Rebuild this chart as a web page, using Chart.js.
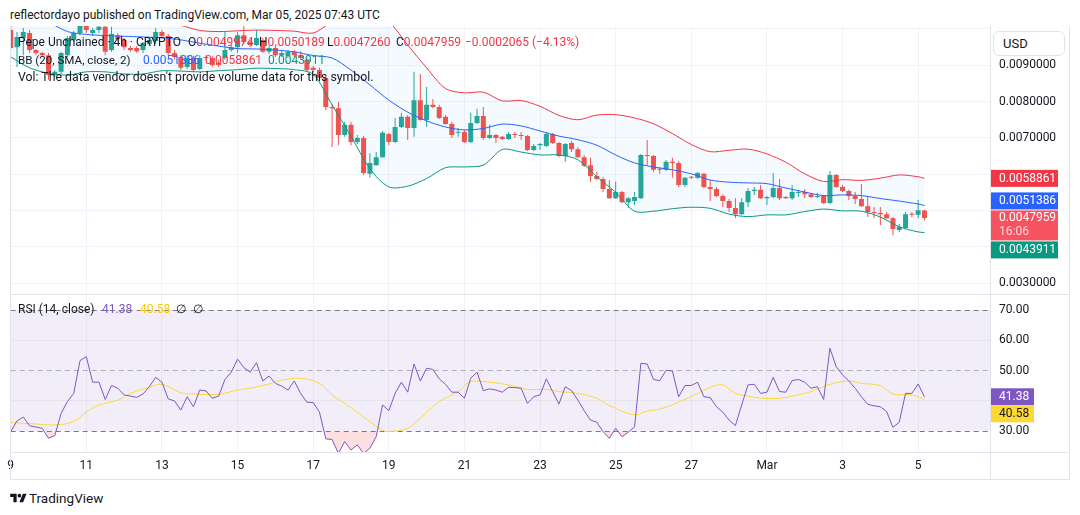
<!DOCTYPE html>
<html>
<head>
<meta charset="UTF-8">
<title>Pepe Unchained 4h - BB / RSI</title>
<script src="https://cdn.jsdelivr.net/npm/chart.js"></script>
<style>
  body { margin: 0; width: 1080px; height: 515px; background: #fff; position: relative; overflow: hidden;
         font-family: Roboto, "Liberation Sans", sans-serif; font-size: 12px; color: #131722; }
  canvas { position: absolute; left: 0; }
  .t { position: absolute; white-space: nowrap; line-height: 14px; }
  .ln { position: absolute; background: #E0E3EB; }
  .dn { color: #F23645; }
  #usd { position: absolute; left: 993px; top: 31px; width: 72px; height: 25px; box-sizing: border-box;
         border: 1px solid #E0E3EB; border-radius: 6px; background: #fff; font-size: 13px; line-height: 23px; padding-left: 9px; }
</style>
</head>
<body>
<div class="t" style="left:10px;top:8px">reflectordayo published on TradingView.com, Mar 05, 2025 07:43 UTC</div>

<canvas id="priceChart" width="1070" height="268" style="top:26px"></canvas>
<canvas id="rsiChart" width="1070" height="186" style="top:294px"></canvas>

<!-- frame -->
<div class="ln" style="left:10px;top:26px;width:1px;height:453px"></div>
<div class="ln" style="left:1069px;top:26px;width:1px;height:453px"></div>
<div class="ln" style="left:990px;top:26px;width:1px;height:453px"></div>
<div class="ln" style="left:10px;top:294px;width:1060px;height:1px"></div>
<div class="ln" style="left:10px;top:452px;width:1060px;height:1px"></div>
<div class="ln" style="left:10px;top:479px;width:1060px;height:1px"></div>

<div id="usd">USD</div>

<!-- legends -->
<div class="t" style="left:18px;top:35px">Pepe Unchained · 4h · CRYPTO</div>
<div class="t" style="left:188px;top:35px">O<span class="dn">0.0049974</span></div>
<div class="t" style="left:259px;top:35px">H<span class="dn">0.0050189</span></div>
<div class="t" style="left:327px;top:35px">L<span class="dn">0.0047260</span></div>
<div class="t" style="left:396px;top:35px">C<span class="dn">0.0047959</span></div>
<div class="t dn" style="left:465px;top:35px">−0.0002065 (−4.13%)</div>
<div class="t" style="left:18px;top:53px;font-size:11.6px">BB (20, SMA, close, 2)</div>
<div class="t" style="left:143px;top:53px;color:#2962FF">0.0051386</div>
<div class="t" style="left:205px;top:53px;color:#F23645">0.0058861</div>
<div class="t" style="left:268px;top:53px;color:#089981">0.0043911</div>
<div class="t" style="left:18px;top:70px;font-size:12.3px">Vol: The data vendor doesn't provide volume data for this symbol.</div>

<div class="t" style="left:18px;top:302px">RSI (14, close)</div>
<div class="t" style="left:102px;top:302px;color:#7E57C2">41.38</div>
<div class="t" style="left:140px;top:302px;color:#F9C80E">40.58</div>
<div class="t" style="left:176px;top:302px">∅</div>
<div class="t" style="left:193px;top:302px">∅</div>

<!-- footer logo -->
<svg style="position:absolute;left:10px;top:492px" width="17" height="12" viewBox="0 0 36 26">
  <path d="M14 22H7V11H0V4h14v18z" fill="#131722"/><circle cx="20" cy="8" r="4" fill="#131722"/><path d="M28 22h-8l7.5-18h8L28 22z" fill="#131722"/>
</svg>
<div class="t" style="left:29px;top:490px;font-size:13.5px;line-height:16px">TradingView</div>

<script>
// 4h candles, index 0 = Feb 9 00:00 UTC, last = Mar 5 04:00
const openP = [
  0.00997, 0.00950, 0.00975, 0.00989, 0.00942, 0.00934, 0.00928, 0.00873, 0.00882, 0.00928,
  0.00970, 0.00989, 0.01011, 0.00989, 0.00997, 0.01006, 0.00942, 0.00983, 0.00970, 0.00948,
  0.00948, 0.00942, 0.00959, 0.00967, 0.00992, 0.00981, 0.00934, 0.00923, 0.00895, 0.00920,
  0.00890, 0.00923, 0.00920, 0.00906, 0.00920, 0.00942, 0.00950, 0.00983, 0.00964, 0.00956,
  0.00970, 0.00937, 0.00948, 0.00928, 0.00926, 0.00937, 0.00928, 0.00915, 0.00893, 0.00887,
  0.00865, 0.00785, 0.00782, 0.00708, 0.00736, 0.00689, 0.00700, 0.00601, 0.00625, 0.00647,
  0.00711, 0.00689, 0.00730, 0.00758, 0.00727, 0.00804, 0.00749, 0.00791, 0.00785, 0.00758,
  0.00738, 0.00714, 0.00716, 0.00689, 0.00741, 0.00760, 0.00700, 0.00708, 0.00703, 0.00697,
  0.00711, 0.00708, 0.00705, 0.00667, 0.00680, 0.00678, 0.00711, 0.00686, 0.00650, 0.00686,
  0.00669, 0.00647, 0.00625, 0.00595, 0.00587, 0.00559, 0.00534, 0.00551, 0.00523, 0.00526,
  0.00534, 0.00653, 0.00650, 0.00614, 0.00612, 0.00634, 0.00631, 0.00570, 0.00592, 0.00590,
  0.00601, 0.00565, 0.00559, 0.00540, 0.00526, 0.00507, 0.00490, 0.00523, 0.00554, 0.00557,
  0.00534, 0.00537, 0.00562, 0.00537, 0.00534, 0.00548, 0.00551, 0.00545, 0.00537, 0.00540,
  0.00521, 0.00598, 0.00565, 0.00554, 0.00540, 0.00532, 0.00512, 0.00496, 0.00493, 0.00490,
  0.00479, 0.00446, 0.00452, 0.00490, 0.00488, 0.0049974
];
const highP = [
  0.01011, 0.00992, 0.01003, 0.00997, 0.00945, 0.00937, 0.00934, 0.00887, 0.00937, 0.00981,
  0.00995, 0.01019, 0.01019, 0.01003, 0.01014, 0.01019, 0.01006, 0.00989, 0.00975, 0.00953,
  0.00953, 0.00964, 0.00975, 0.01003, 0.00997, 0.00986, 0.00942, 0.00928, 0.00928, 0.00926,
  0.00928, 0.00928, 0.00926, 0.00915, 0.00992, 0.00956, 0.00992, 0.01008, 0.00970, 0.00997,
  0.00975, 0.00953, 0.00953, 0.00939, 0.00942, 0.00942, 0.00939, 0.00920, 0.00898, 0.00893,
  0.00871, 0.00793, 0.00799, 0.00744, 0.00744, 0.00708, 0.00705, 0.00658, 0.00661, 0.00719,
  0.00714, 0.00755, 0.00769, 0.00763, 0.00882, 0.00876, 0.00840, 0.00807, 0.00791, 0.00763,
  0.00744, 0.00727, 0.00722, 0.00769, 0.00780, 0.00785, 0.00736, 0.00711, 0.00705, 0.00716,
  0.00716, 0.00716, 0.00708, 0.00683, 0.00686, 0.00716, 0.00714, 0.00689, 0.00686, 0.00692,
  0.00675, 0.00653, 0.00645, 0.00606, 0.00592, 0.00584, 0.00579, 0.00554, 0.00537, 0.00551,
  0.00656, 0.00694, 0.00653, 0.00620, 0.00639, 0.00645, 0.00636, 0.00592, 0.00595, 0.00606,
  0.00603, 0.00584, 0.00565, 0.00545, 0.00532, 0.00534, 0.00534, 0.00562, 0.00565, 0.00570,
  0.00540, 0.00603, 0.00587, 0.00540, 0.00570, 0.00557, 0.00559, 0.00548, 0.00548, 0.00543,
  0.00609, 0.00601, 0.00570, 0.00557, 0.00551, 0.00573, 0.00537, 0.00510, 0.00510, 0.00496,
  0.00482, 0.00463, 0.00496, 0.00496, 0.00529, 0.0050189
];
const lowP = [
  0.00942, 0.00895, 0.00928, 0.00934, 0.00928, 0.00923, 0.00860, 0.00868, 0.00876, 0.00923,
  0.00964, 0.00983, 0.00989, 0.00981, 0.00989, 0.00928, 0.00937, 0.00967, 0.00942, 0.00937,
  0.00934, 0.00934, 0.00953, 0.00959, 0.00975, 0.00926, 0.00915, 0.00887, 0.00890, 0.00882,
  0.00887, 0.00915, 0.00895, 0.00895, 0.00915, 0.00937, 0.00934, 0.00959, 0.00950, 0.00953,
  0.00934, 0.00931, 0.00923, 0.00923, 0.00920, 0.00923, 0.00915, 0.00882, 0.00882, 0.00860,
  0.00777, 0.00675, 0.00680, 0.00703, 0.00680, 0.00683, 0.00598, 0.00590, 0.00623, 0.00645,
  0.00680, 0.00686, 0.00727, 0.00694, 0.00703, 0.00747, 0.00730, 0.00782, 0.00752, 0.00736,
  0.00700, 0.00703, 0.00686, 0.00686, 0.00738, 0.00694, 0.00697, 0.00686, 0.00694, 0.00694,
  0.00700, 0.00694, 0.00664, 0.00664, 0.00667, 0.00675, 0.00683, 0.00647, 0.00634, 0.00661,
  0.00645, 0.00620, 0.00579, 0.00584, 0.00551, 0.00532, 0.00532, 0.00521, 0.00507, 0.00515,
  0.00532, 0.00625, 0.00606, 0.00601, 0.00609, 0.00590, 0.00565, 0.00565, 0.00587, 0.00587,
  0.00562, 0.00526, 0.00537, 0.00510, 0.00496, 0.00479, 0.00488, 0.00510, 0.00543, 0.00532,
  0.00515, 0.00534, 0.00529, 0.00532, 0.00529, 0.00537, 0.00534, 0.00534, 0.00534, 0.00518,
  0.00518, 0.00562, 0.00551, 0.00529, 0.00518, 0.00510, 0.00482, 0.00479, 0.00460, 0.00477,
  0.00432, 0.00441, 0.00449, 0.00482, 0.00479, 0.0047260
];
const closeP = [
  0.00948, 0.00978, 0.00992, 0.00942, 0.00934, 0.00928, 0.00873, 0.00882, 0.00934, 0.00975,
  0.00989, 0.01011, 0.00997, 0.00997, 0.01006, 0.00937, 0.00986, 0.00972, 0.00950, 0.00942,
  0.00939, 0.00961, 0.00970, 0.00992, 0.00981, 0.00934, 0.00923, 0.00893, 0.00920, 0.00887,
  0.00920, 0.00920, 0.00901, 0.00901, 0.00942, 0.00950, 0.00983, 0.00964, 0.00956, 0.00975,
  0.00937, 0.00948, 0.00928, 0.00934, 0.00937, 0.00928, 0.00920, 0.00887, 0.00887, 0.00865,
  0.00785, 0.00782, 0.00708, 0.00736, 0.00689, 0.00700, 0.00603, 0.00631, 0.00647, 0.00714,
  0.00689, 0.00730, 0.00758, 0.00727, 0.00804, 0.00749, 0.00791, 0.00785, 0.00755, 0.00738,
  0.00708, 0.00716, 0.00689, 0.00741, 0.00760, 0.00700, 0.00708, 0.00700, 0.00697, 0.00711,
  0.00708, 0.00705, 0.00667, 0.00678, 0.00683, 0.00711, 0.00686, 0.00650, 0.00683, 0.00669,
  0.00647, 0.00623, 0.00595, 0.00587, 0.00559, 0.00534, 0.00551, 0.00523, 0.00534, 0.00537,
  0.00653, 0.00650, 0.00612, 0.00612, 0.00634, 0.00631, 0.00570, 0.00590, 0.00590, 0.00603,
  0.00565, 0.00559, 0.00540, 0.00526, 0.00507, 0.00490, 0.00523, 0.00554, 0.00557, 0.00534,
  0.00537, 0.00562, 0.00534, 0.00534, 0.00551, 0.00551, 0.00545, 0.00537, 0.00540, 0.00521,
  0.00598, 0.00565, 0.00554, 0.00540, 0.00532, 0.00512, 0.00496, 0.00493, 0.00490, 0.00479,
  0.00449, 0.00455, 0.00490, 0.00488, 0.00501, 0.0047959
];

// Bollinger Bands (20, 2) every 3 bars
const bbIdx = [0, 3, 6, 9, 12, 15, 18, 21, 24, 27, 30, 33, 36, 39, 42, 45, 48, 51, 54, 57,
  60, 63, 66, 69, 72, 75, 78, 81, 84, 87, 90, 93, 96, 99, 102, 105, 108, 111, 114, 117,
  120, 123, 126, 129, 132, 135, 138, 141, 144, 145];
const bbUpper = [0.01060, 0.01060, 0.01055, 0.01050, 0.01045, 0.01040, 0.01035, 0.01030, 0.01020, 0.01010,
  0.00996, 0.00993, 0.00995, 0.00997, 0.00996, 0.00994, 0.00989, 0.01020, 0.01045, 0.01045,
  0.01020, 0.00956, 0.00893, 0.00836, 0.00824, 0.00826, 0.00802, 0.00803, 0.00787, 0.00762,
  0.00750, 0.00763, 0.00764, 0.00755, 0.00739, 0.00712, 0.00682, 0.00662, 0.00666, 0.00669,
  0.00656, 0.00633, 0.00601, 0.00580, 0.00585, 0.00583, 0.00589, 0.00598, 0.00593, 0.0058861];
const bbBasis = [0.01040, 0.01030, 0.01018, 0.00993, 0.00985, 0.00982, 0.00980, 0.00978, 0.00976, 0.00970,
  0.00961, 0.00953, 0.00946, 0.00945, 0.00942, 0.00937, 0.00927, 0.00920, 0.00887, 0.00846,
  0.00804, 0.00771, 0.00747, 0.00730, 0.00722, 0.00726, 0.00738, 0.00733, 0.00719, 0.00705,
  0.00695, 0.00680, 0.00653, 0.00631, 0.00620, 0.00612, 0.00601, 0.00584, 0.00578, 0.00576,
  0.00574, 0.00562, 0.00551, 0.00541, 0.00543, 0.00541, 0.00533, 0.00526, 0.00518, 0.0051386];
const bbLower = [0.00923, 0.00893, 0.00878, 0.00873, 0.00882, 0.00882, 0.00876, 0.00876, 0.00885, 0.00884,
  0.00882, 0.00885, 0.00888, 0.00892, 0.00891, 0.00888, 0.00875, 0.00791, 0.00705, 0.00615,
  0.00565, 0.00567, 0.00588, 0.00618, 0.00620, 0.00625, 0.00668, 0.00661, 0.00653, 0.00653,
  0.00640, 0.00593, 0.00550, 0.00498, 0.00498, 0.00505, 0.00509, 0.00506, 0.00490, 0.00483,
  0.00488, 0.00488, 0.00497, 0.00504, 0.00499, 0.00498, 0.00482, 0.00455, 0.00441, 0.0043911];

// RSI (14, close), one value per bar, and its moving average
const rsiVals = [
  29.9, 33.4, 34.7, 31.8, 31.4, 31.0, 27.7, 28.6, 35.9, 39.8,
  42.5, 53.3, 54.6, 46.2, 46.2, 40.5, 45.1, 44.2, 42.0, 41.6,
  41.2, 42.3, 44.7, 47.8, 46.2, 40.7, 40.0, 37.0, 41.4, 38.1,
  43.6, 43.3, 40.9, 41.6, 47.1, 49.5, 53.8, 51.0, 49.5, 52.6,
  46.6, 48.2, 45.8, 44.9, 43.6, 46.6, 42.5, 39.6, 39.5, 36.3,
  27.5, 27.3, 22.7, 26.6, 23.8, 25.5, 22.7, 24.4, 28.2, 38.7,
  36.8, 42.5, 46.2, 42.9, 52.2, 46.6, 50.8, 50.4, 47.3, 45.5,
  42.9, 42.9, 40.9, 47.5, 49.5, 43.4, 44.0, 43.6, 42.9, 44.5,
  44.4, 44.2, 39.2, 41.4, 42.0, 47.3, 43.1, 39.0, 44.7, 43.4,
  40.3, 36.8, 33.7, 33.0, 29.9, 27.7, 31.0, 28.2, 29.7, 31.5,
  52.4, 52.2, 47.1, 46.7, 50.1, 49.9, 41.4, 45.1, 45.1, 46.2,
  41.4, 41.1, 38.1, 36.3, 33.7, 31.9, 38.7, 45.3, 45.5, 42.5,
  42.9, 47.8, 43.1, 42.9, 46.7, 47.1, 46.2, 44.2, 44.7, 40.5,
  57.4, 51.3, 48.6, 46.6, 44.2, 41.4, 38.9, 38.4, 38.1, 36.5,
  31.3, 33.0, 42.5, 42.5, 45.6, 41.38
];
const rsiMaIdx = [0, 4, 7, 10, 12, 14, 17, 19, 22, 24, 27, 29, 33, 36, 38, 41, 43, 46, 49, 51,
  54, 57, 59, 60, 63, 65, 68, 71, 73, 76, 79, 82, 85, 87, 90, 93, 95, 99, 101, 103,
  106, 109, 111, 113, 115, 117, 119, 122, 124, 127, 130, 133, 135, 138, 140, 143, 145];
const rsiMaVals = [32.9, 32.4, 32.1, 33.2, 36.3, 38.7, 40.3, 42.5, 44.5, 45.5, 42.7, 42.3, 42.2, 43.6, 44.2, 45.6, 46.9, 47.5, 45.8, 42.0,
  37.8, 33.2, 30.4, 29.9, 31.0, 34.3, 39.8, 43.1, 46.4, 46.2, 45.3, 43.8, 43.8, 43.1, 42.5, 40.9, 38.5, 35.4, 36.7, 37.3,
  39.6, 42.5, 44.5, 45.3, 42.5, 41.6, 40.9, 40.9, 41.6, 43.1, 45.5, 46.6, 45.8, 45.1, 42.3, 42.0, 40.58];

const rsiLevels = [30, 50, 70];
const rsiTicks = [30, 40, 50, 60, 70];
const priceTicks = [0.003, 0.004, 0.005, 0.006, 0.007, 0.008, 0.009, 0.010];
const priceLabelled = [0.003, 0.007, 0.008, 0.009];
const dayTicks = [0, 12, 24, 36, 48, 60, 72, 84, 96, 108, 120, 132, 144];
const dayLabels = ['9', '11', '13', '15', '17', '19', '21', '23', '25', '27', 'Mar', '3', '5'];
const countdown = '16:06';

const UP = '#26A69A', DOWN = '#EF5350';
const X_MAX = 155.4;
const idx = closeP.map((c, i) => i);
const candleColors = closeP.map((c, i) => c >= openP[i] ? UP : DOWN);

Chart.defaults.font.family = 'Roboto';
Chart.defaults.font.size = 12;
Chart.defaults.color = '#131722';

function xScale(showLabels) {
  return {
    type: 'linear', min: 0, max: X_MAX, offset: false,
    grid: { color: showLabels ? 'rgba(42,46,57,0.06)' : '#F0F3FA', drawTicks: false, offset: false },
    border: { display: false },
    afterBuildTicks: s => { s.ticks = dayTicks.map(v => ({ value: v })); },
    afterFit: s => { s.height = showLabels ? 28 : 0; s.paddingLeft = 0; s.paddingRight = 0; },
    ticks: { display: showLabels, autoSkip: false, maxRotation: 0, padding: 7, callback: (v, k) => dayLabels[k] }
  };
}

// right axis is a fixed 80px column and must not add label padding to the plot
function fitRightAxis(s) {
  s.width = 80;
  s.paddingTop = 0;
  s.paddingBottom = 0;
}

function badge(ctx, x, top, w, h, bg, fg, text, y) {
  ctx.fillStyle = bg;
  ctx.fillRect(x, top, w, h);
  ctx.fillStyle = fg;
  ctx.fillText(text, x + 8, y);
}

const priceBadges = {
  id: 'priceBadges',
  afterDraw(chart) {
    const ys = chart.scales.y, ctx = chart.ctx, left = chart.chartArea.right + 1;
    const last = closeP[closeP.length - 1];
    const py = ys.getPixelForValue(last);
    const fixedTop = py - 7.5, fixedBottom = fixedTop + 30;
    const items = [
      { v: bbUpper[bbUpper.length - 1], bg: '#F23645' },
      { v: bbBasis[bbBasis.length - 1], bg: '#2962FF' },
      { v: bbLower[bbLower.length - 1], bg: '#089981' }
    ];
    ctx.save();
    ctx.font = '12px Roboto';
    ctx.textBaseline = 'middle';
    items.forEach(it => {
      const p = ys.getPixelForValue(it.v);
      let top = p - 8.5;
      if (p < py && top + 17 > fixedTop - 1) top = fixedTop - 18;
      if (p >= py && top < fixedBottom + 1) top = fixedBottom + 1;
      badge(ctx, left, top, 67, 17, it.bg, '#fff', it.v.toFixed(7), top + 9);
    });
    badge(ctx, left, fixedTop, 67, 30, '#F7525F', '#fff', last.toFixed(7), py + 0.5);
    ctx.fillStyle = 'rgba(255,255,255,0.78)';
    ctx.fillText(countdown, left + 8, py + 14.5);
    ctx.restore();
  }
};

const rsiBand = {
  id: 'rsiBand',
  beforeDraw(chart) {
    const { ctx, chartArea, scales: { y } } = chart;
    const top = y.getPixelForValue(rsiLevels[2]), bot = y.getPixelForValue(rsiLevels[0]);
    ctx.save();
    ctx.fillStyle = 'rgba(126,87,194,0.1)';
    ctx.fillRect(chartArea.left, top, chartArea.right - chartArea.left, bot - top);
    ctx.restore();
  }
};

const rsiBadges = {
  id: 'rsiBadges',
  afterDraw(chart) {
    const ys = chart.scales.y, ctx = chart.ctx, left = chart.chartArea.right + 1;
    const r = rsiVals[rsiVals.length - 1], m = rsiMaVals[rsiMaVals.length - 1];
    const pr = ys.getPixelForValue(r);
    const rTop = pr - 8.5;
    let mTop = ys.getPixelForValue(m) - 8.5;
    if (mTop < rTop + 17) mTop = rTop + 17;
    ctx.save();
    ctx.font = '12px Roboto';
    ctx.textBaseline = 'middle';
    badge(ctx, left, rTop, 43, 17, '#7E57C2', '#fff', r.toFixed(2), rTop + 9);
    badge(ctx, left, mTop, 43, 17, '#FDD835', '#131722', m.toFixed(2), mTop + 9);
    ctx.restore();
  }
};

new Chart(document.getElementById('priceChart'), {
  type: 'bar',
  data: {
    datasets: [
      { type: 'line', label: 'BB upper', data: bbIdx.map((x, k) => ({ x, y: bbUpper[k] })),
        borderColor: '#F23645', borderWidth: 1, pointRadius: 0, tension: 0.3, clip: 0, order: 0,
        fill: '+2', backgroundColor: 'rgba(33,150,243,0.05)' },
      { type: 'line', label: 'BB basis', data: bbIdx.map((x, k) => ({ x, y: bbBasis[k] })),
        borderColor: '#2962FF', borderWidth: 1, pointRadius: 0, tension: 0.3, clip: 0, order: 0, fill: false },
      { type: 'line', label: 'BB lower', data: bbIdx.map((x, k) => ({ x, y: bbLower[k] })),
        borderColor: '#089981', borderWidth: 1, pointRadius: 0, tension: 0.3, clip: 0, order: 0, fill: false },
      { label: 'wicks', data: idx.map(i => ({ x: i, y: [lowP[i], highP[i]] })),
        backgroundColor: candleColors, barThickness: 1, grouped: false, inflateAmount: 0, clip: 0, order: 1 },
      { label: 'bodies', data: idx.map(i => ({ x: i, y: [openP[i], closeP[i]] })),
        backgroundColor: candleColors, barThickness: 5, minBarLength: 1, grouped: false, inflateAmount: 0, clip: 0, order: 2 }
    ]
  },
  options: {
    responsive: false, animation: false, events: [],
    layout: { padding: { left: 10.7, right: 0, top: 0, bottom: 0 } },
    plugins: { legend: { display: false }, tooltip: { enabled: false }, filler: { drawTime: 'beforeDatasetsDraw' } },
    scales: {
      x: xScale(false),
      y: {
        position: 'right', min: 0.0027, max: 0.0100826,
        grid: { color: '#F0F3FA', drawTicks: false },
        border: { display: false },
        afterBuildTicks: s => { s.ticks = priceTicks.map(v => ({ value: v })); },
        afterFit: fitRightAxis,
        ticks: { padding: 9, callback: v => priceLabelled.includes(v) ? v.toFixed(7) : '' }
      }
    }
  },
  plugins: [priceBadges]
});

new Chart(document.getElementById('rsiChart'), {
  type: 'line',
  data: {
    datasets: [
      { label: 'RSI', data: rsiVals.map((v, i) => ({ x: i, y: v })), borderColor: '#7E57C2', borderWidth: 1,
        pointRadius: 0, tension: 0, clip: 0,
        fill: { target: { value: rsiLevels[0] }, above: 'rgba(0,0,0,0)', below: 'rgba(242,54,69,0.16)' } },
      { label: 'RSI MA', data: rsiMaIdx.map((x, k) => ({ x, y: rsiMaVals[k] })), borderColor: '#FDD835', borderWidth: 1,
        pointRadius: 0, tension: 0.35, clip: 0, fill: false }
    ]
  },
  options: {
    responsive: false, animation: false, events: [],
    layout: { padding: { left: 10.7, right: 0, top: 1, bottom: 0 } },
    plugins: { legend: { display: false }, tooltip: { enabled: false } },
    scales: {
      x: xScale(true),
      y: {
        position: 'right', min: 23.17, max: 74.95,
        grid: {
          drawTicks: false,
          color: c => c.tick && rsiLevels.includes(c.tick.value)
            ? (c.tick.value === 50 ? 'rgba(120,123,134,0.55)' : '#787B86') : 'rgba(42,46,57,0.06)'
        },
        border: { display: false, dash: c => c.tick && rsiLevels.includes(c.tick.value) ? [5, 4] : [] },
        afterBuildTicks: s => { s.ticks = rsiTicks.map(v => ({ value: v })); },
        afterFit: fitRightAxis,
        ticks: { padding: 9, callback: v => v === 40 ? '' : v.toFixed(2) }
      }
    }
  },
  plugins: [rsiBand, rsiBadges]
});
</script>
</body>
</html>
